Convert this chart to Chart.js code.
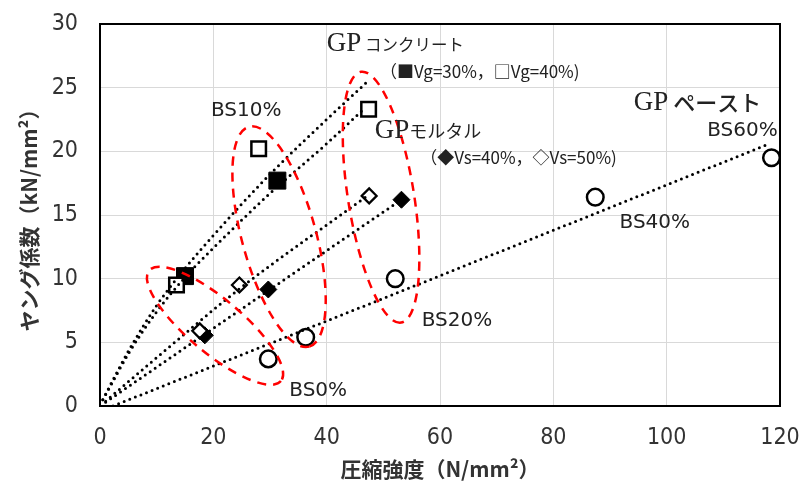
<!DOCTYPE html>
<html lang="ja">
<head>
<meta charset="utf-8">
<script src="https://cdn.jsdelivr.net/npm/chart.js@4"></script>
<style>
  html, body { margin: 0; padding: 0; background: #fff; }
</style>
</head>
<body>
<canvas id="chart" width="805" height="486"></canvas>
<script>
// axis ticks
const xTicks = [0, 20, 40, 60, 80, 100, 120];
const yTicks = [0, 5, 10, 15, 20, 25, 30];

// GP concrete
const concrete30X = [15.0, 31.3];
const concrete30Y = [10.2, 17.7];
const concrete40X = [13.5, 28.0, 47.4];
const concrete40Y = [9.5, 20.2, 23.3];

// GP mortar
const mortar40X = [18.5, 29.7, 53.2];
const mortar40Y = [5.55, 9.15, 16.2];
const mortar50X = [17.6, 24.6, 47.5];
const mortar50Y = [5.9, 9.5, 16.5];

// GP paste
const pasteX = [29.7, 36.3, 52.1, 87.4, 118.5];
const pasteY = [3.7, 5.4, 10.0, 16.4, 19.5];

// trend lines
const trendConcreteAX = [0.5, 2, 5, 10, 15, 20, 30, 40, 47];
const trendConcreteAY = [0.5, 1.8, 4.3, 7.9, 10.8, 13.4, 18.2, 22.5, 25.4];
const trendConcreteBX = [0.5, 2, 5, 10, 15, 20, 30, 40, 46.5];
const trendConcreteBY = [0.5, 1.7, 4.1, 7.4, 10.1, 12.4, 16.7, 20.6, 23.3];
const trendMortar50X = [1, 10, 24.6, 47.5];
const trendMortar50Y = [0.38, 3.8, 9.2, 16.6];
const trendMortar40X = [1, 20, 40, 53.2];
const trendMortar40Y = [0.3, 6.1, 12.2, 16.2];
const trendPasteX = [2.3, 50, 117.6];
const trendPasteY = [0, 8.45, 20.5];

const toPoints = (xs, ys) => xs.map((x, i) => ({ x, y: ys[i] }));

const jp = "'Noto Sans CJK JP', sans-serif";
const serif = "'Liberation Serif', 'DejaVu Serif', serif";
const bsFont = "20px 'DejaVu Sans', sans-serif";

// red dashed groupings (centre in data units, radii in px)
const groupRings = [
  { x: 20.3, y: 6.3, rx: 86, ry: 27, angle: 40 },
  { x: 31.6, y: 13.3, rx: 114, ry: 37, angle: 74.7 },
  { x: 49.6, y: 16.4, rx: 127, ry: 33, angle: 80.9 }
];

const notes = [
  { x: 25.8, y: 23.2, align: "center", parts: [["BS10%", bsFont]] },
  { x: 38.5, y: 1.2, align: "center", parts: [["BS0%", bsFont]] },
  { x: 63.0, y: 6.7, align: "center", parts: [["BS20%", bsFont]] },
  { x: 97.9, y: 14.4, align: "center", parts: [["BS40%", bsFont]] },
  { x: 119.6, y: 21.6, align: "right", parts: [["BS60%", bsFont]] },
  { x: 40.0, y: 28.4, align: "left", parts: [["GP", "27px " + serif], [" コンクリート", "16.5px " + jp]] },
  { x: 49.4, y: 26.3, align: "left", parts: [["（■Vg=30%，□Vg=40%)", "17px " + jp]] },
  { x: 94.2, y: 23.8, align: "left", parts: [["GP", "27px " + serif], [" ペースト", "500 22px " + jp]] },
  { x: 48.5, y: 21.6, align: "left", parts: [["GP", "27px " + serif], ["モルタル", "18px " + jp]] },
  { x: 56.5, y: 19.5, align: "left", parts: [["（◆Vs=40%，◇Vs=50%)", "17px " + jp]] }
];

const dotted = {
  type: "line",
  showLine: true,
  borderColor: "#000",
  borderWidth: 3,
  borderDash: [0, 6],
  borderCapStyle: "round",
  pointRadius: 0,
  fill: false,
  cubicInterpolationMode: "monotone",
  order: 0
};

const framePlugin = {
  id: "frame",
  beforeDatasetsDraw(chart) {
    const { ctx, chartArea: a } = chart;
    ctx.save();
    ctx.strokeStyle = "#000";
    ctx.lineWidth = 2;
    ctx.strokeRect(a.left, a.top, a.right - a.left, a.bottom - a.top);
    ctx.restore();
  }
};

const ringPlugin = {
  id: "rings",
  afterDatasetsDraw(chart) {
    const { ctx, scales } = chart;
    ctx.save();
    ctx.strokeStyle = "#ff0000";
    ctx.lineWidth = 2.5;
    ctx.setLineDash([9, 7]);
    groupRings.forEach(r => {
      ctx.beginPath();
      ctx.ellipse(scales.x.getPixelForValue(r.x), scales.y.getPixelForValue(r.y),
        r.rx, r.ry, r.angle * Math.PI / 180, 0, Math.PI * 2);
      ctx.stroke();
    });
    ctx.restore();
  }
};

const notePlugin = {
  id: "notes",
  afterDraw(chart) {
    const { ctx, scales } = chart;
    ctx.save();
    ctx.fillStyle = "#222";
    ctx.textBaseline = "middle";
    notes.forEach(n => {
      const widths = n.parts.map(([t, f]) => { ctx.font = f; return ctx.measureText(t).width; });
      const total = widths.reduce((s, w) => s + w, 0);
      let x = scales.x.getPixelForValue(n.x);
      const y = scales.y.getPixelForValue(n.y);
      if (n.align === "center") x -= total / 2;
      if (n.align === "right") x -= total;
      n.parts.forEach(([t, f], i) => {
        ctx.font = f;
        ctx.textAlign = "left";
        ctx.fillText(t, x, y);
        x += widths[i];
      });
    });
    ctx.restore();
  }
};

const tickFont = { family: "'Liberation Sans Narrow', 'DejaVu Sans Condensed', sans-serif", size: 23 };

new Chart(document.getElementById("chart"), {
  type: "scatter",
  data: {
    datasets: [
      { ...dotted, data: toPoints(trendConcreteAX, trendConcreteAY) },
      { ...dotted, data: toPoints(trendConcreteBX, trendConcreteBY) },
      { ...dotted, data: toPoints(trendMortar50X, trendMortar50Y) },
      { ...dotted, data: toPoints(trendMortar40X, trendMortar40Y) },
      { ...dotted, data: toPoints(trendPasteX, trendPasteY), cubicInterpolationMode: "default", tension: 0 },
      {
        label: "Vg=40%", data: toPoints(concrete40X, concrete40Y), order: 1,
        pointStyle: "rect", pointRadius: 10.3, backgroundColor: "#fff", borderColor: "#000", borderWidth: 2.5
      },
      {
        label: "Vs=50%", data: toPoints(mortar50X, mortar50Y), order: 1,
        pointStyle: "rectRot", pointRadius: 7.5, backgroundColor: "#fff", borderColor: "#000", borderWidth: 2.2
      },
      {
        label: "paste", data: toPoints(pasteX, pasteY), order: 1,
        pointStyle: "circle", pointRadius: 8.3, backgroundColor: "#fff", borderColor: "#000", borderWidth: 2.5
      },
      {
        label: "Vg=30%", data: toPoints(concrete30X, concrete30Y), order: 2,
        pointStyle: "rect", pointRadius: 12, backgroundColor: "#000", borderColor: "#000", borderWidth: 1
      },
      {
        label: "Vs=40%", data: toPoints(mortar40X, mortar40Y), order: 2,
        pointStyle: "rectRot", pointRadius: 8.5, backgroundColor: "#000", borderColor: "#000", borderWidth: 1
      }
    ]
  },
  options: {
    responsive: false,
    animation: false,
    events: [],
    layout: { padding: { top: 24, right: 25, left: 0, bottom: 0 } },
    plugins: { legend: { display: false }, tooltip: { enabled: false } },
    scales: {
      x: {
        type: "linear", min: 0, max: 120,
        afterBuildTicks: s => { s.ticks = xTicks.map(value => ({ value })); },
        afterFit: s => { s.height = 80; s.paddingLeft = 0; s.paddingRight = 0; },
        grid: { color: "#d9d9d9", lineWidth: 1, drawTicks: false },
        border: { display: false },
        ticks: { color: "#333", font: tickFont, padding: 18, maxRotation: 0 },
        title: {
          display: true, text: "圧縮強度（N/mm²）", color: "#333",
          font: { family: jp, size: 21, weight: "bold" }, padding: { bottom: 4 }
        }
      },
      y: {
        type: "linear", min: 0, max: 30,
        afterBuildTicks: s => { s.ticks = yTicks.map(value => ({ value })); },
        afterFit: s => { s.width = 100; s.paddingTop = 0; s.paddingBottom = 0; },
        grid: { color: "#d9d9d9", lineWidth: 1, drawTicks: false },
        border: { display: false },
        ticks: { color: "#333", font: tickFont, padding: 22 },
        title: {
          display: true, text: "ヤング係数（kN/mm²）", color: "#333",
          font: { family: jp, size: 21, weight: "bold" }, padding: { top: 16 }
        }
      }
    }
  },
  plugins: [framePlugin, ringPlugin, notePlugin]
});
</script>
</body>
</html>
